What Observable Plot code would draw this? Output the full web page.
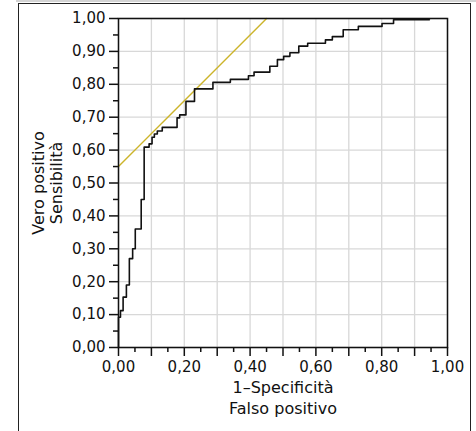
<!DOCTYPE html>
<html>
<head>
<meta charset="utf-8">
<script src="https://cdn.jsdelivr.net/npm/d3@7"></script>
<script src="https://cdn.jsdelivr.net/npm/@observablehq/plot@0.6"></script>
<style>
  html, body { margin: 0; padding: 0; background: white; }
  #wrap { position: relative; width: 476px; height: 431px; overflow: hidden; }
  #topline { position: absolute; left: 16px; top: 0; width: 460px; height: 1.5px; background: #d4d4d4; }
  #outer { position: absolute; left: 18px; top: 3px; width: 451px; height: 500px; border: 1.5px solid #222; border-bottom: none; pointer-events: none; }
  #chart { position: absolute; left: 0; top: 0; }
</style>
</head>
<body>
<div id="wrap">
  <div id="topline"></div>
  <div id="chart"></div>
  <div id="outer"></div>
</div>
<script>
// ROC curve vertices (1-Specificità, Sensibilità), drawn as a step-after line
const fpr = [0, 0, 0.006, 0.014, 0.024, 0.033, 0.043, 0.051, 0.069, 0.078, 0.093, 0.102, 0.109, 0.118, 0.133, 0.178, 0.186, 0.205, 0.231, 0.287, 0.340, 0.395, 0.412, 0.460, 0.483, 0.502, 0.521, 0.548, 0.575, 0.629, 0.650, 0.683, 0.729, 0.801, 0.836, 0.945];
const tpr = [0, 0.092, 0.112, 0.153, 0.19, 0.27, 0.30, 0.36, 0.45, 0.609, 0.619, 0.639, 0.649, 0.658, 0.669, 0.698, 0.707, 0.748, 0.786, 0.806, 0.815, 0.826, 0.837, 0.855, 0.875, 0.885, 0.896, 0.916, 0.925, 0.935, 0.945, 0.966, 0.976, 0.985, 0.996, 0.996];

// Reference (tangent) line
const refX = [0, 0.45];
const refY = [0.55, 1.0];

// Ticks
const majorTicks = [0, 0.1, 0.2, 0.3, 0.4, 0.5, 0.6, 0.7, 0.8, 0.9, 1.0];
const minorTicks = [0.05, 0.15, 0.25, 0.35, 0.45, 0.55, 0.65, 0.75, 0.85, 0.95];
const xLabelTicks = [0, 0.2, 0.4, 0.6, 0.8, 1.0];
const yTickLabels = ["0,00","0,10","0,20","0,30","0,40","0,50","0,60","0,70","0,80","0,90","1,00"];
const xTickLabels = ["0,00","0,20","0,40","0,60","0,80","1,00"];

const xTitle = "1–Specificità\nFalso positivo";
const yTitle = "Vero positivo\nSensibilità";

const roc = fpr.map((x, i) => ({x, y: tpr[i]}));
const ref = refX.map((x, i) => ({x, y: refY[i]}));
const yFmt = d => yTickLabels[majorTicks.findIndex(t => Math.abs(t - d) < 1e-9)] ?? "";
const xFmt = d => { const i = xLabelTicks.findIndex(t => Math.abs(t - d) < 1e-9); return i >= 0 ? xTickLabels[i] : ""; };

const plot = Plot.plot({
  width: 476,
  height: 431,
  marginLeft: 118,
  marginRight: 29,
  marginTop: 18,
  marginBottom: 84,
  style: { fontFamily: "DejaVu Sans", fontSize: "15px", background: "transparent", color: "#111", overflow: "visible" },
  x: { domain: [0, 1], label: null },
  y: { domain: [0, 1], label: null },
  marks: [
    Plot.gridX(majorTicks, { stroke: "#d8d8d8", strokeOpacity: 1, strokeWidth: 1.3 }),
    Plot.gridY(majorTicks, { stroke: "#d8d8d8", strokeOpacity: 1, strokeWidth: 1.3 }),
    Plot.axisY({ ticks: majorTicks, tickSize: 9, tickPadding: 4, tickFormat: yFmt, strokeWidth: 1.5, label: null }),
    Plot.axisY({ ticks: minorTicks, tickSize: 5, tickFormat: () => "", strokeWidth: 1.5, label: null }),
    Plot.axisX({ ticks: majorTicks, tickSize: 9, tickPadding: 5, tickFormat: xFmt, strokeWidth: 1.5, label: null }),
    Plot.axisX({ ticks: minorTicks, tickSize: 5, tickFormat: () => "", strokeWidth: 1.5, label: null }),
    Plot.line(ref, { x: "x", y: "y", stroke: "#ccb42a", strokeWidth: 1.4 }),
    Plot.line(roc, { x: "x", y: "y", curve: "step-after", stroke: "#111", strokeWidth: 1.6 }),
    Plot.frame({ stroke: "#111", strokeWidth: 1.5 }),
    Plot.text([yTitle], { text: d => d, frameAnchor: "left", textAnchor: "middle", lineAnchor: "middle", rotate: -90, dx: -71, lineHeight: 1.1, fontSize: 16, fill: "#111" }),
    Plot.text([xTitle], { text: d => d, frameAnchor: "bottom", textAnchor: "middle", lineAnchor: "top", dy: 31, lineHeight: 1.3, fontSize: 16, fill: "#111" })
  ]
});
document.getElementById("chart").appendChild(plot);
</script>
</body>
</html>
